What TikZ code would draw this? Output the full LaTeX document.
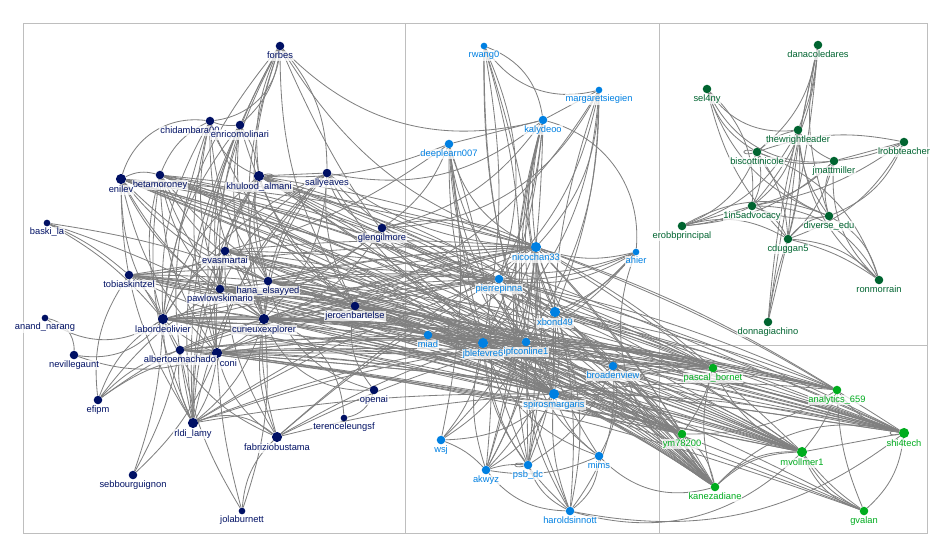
\documentclass[tikz,border=0pt]{standalone}
\usepackage{fontspec}
\setmainfont{Liberation Sans}
\definecolor{NetNavy}{RGB}{0,16,100}
\definecolor{NetBlue}{RGB}{0,128,226}
\definecolor{NetForest}{RGB}{0,100,48}
\definecolor{NetLime}{RGB}{0,172,30}
\definecolor{EdgeGray}{RGB}{128,128,128}
\definecolor{FrameGray}{RGB}{190,190,190}
\usetikzlibrary{backgrounds}

\tikzset{
    vtx/.style={circle, draw=none, inner sep=0pt, label distance=1.5pt},
    vS/.style={vtx, minimum size=5pt},
    vM/.style={vtx, minimum size=6.4pt},
    vL/.style={vtx, minimum size=7.6pt},
    lab/.style={font=\fontsize{7}{8}\selectfont, fill=white, fill opacity=0.75, text opacity=1,
        inner sep=0.7pt, text height=5.1pt, text depth=1.5pt},
    link/.style={draw=EdgeGray, line width=0.62pt},
    frame/.style={draw=FrameGray, line width=0.7pt},
}

\begin{document}
\begin{tikzpicture}[x=0.75pt, y=-0.75pt, every label/.style={lab}]
    \useasboundingbox (0,0) rectangle (950,557);

    % group 1 (navy)
    \node[vM, fill=NetNavy, label={[text=NetNavy, xshift=-15pt]below:chidambara00}] (chid) at (210,121) {};
    \node[vL, fill=NetNavy, label={[text=NetNavy, xshift=8.5pt]below:coni}] (coni) at (217,353) {};
    \foreach \id/\x/\y/\sz/\txt in {forbes/280/46/vM/forbes, beta/160/175/vM/betamoroney,
        enilev/121/179/vL/enilev, enrico/240/125/vM/enricomolinari, khul/259/176/vL/khulood\_almani,
        sally/327/173/vM/sallyeaves, baski/47/223/vS/baski\_la, glen/382/228/vM/glengilmore,
        evas/225/251/vM/evasmartai, tobi/129/275/vM/tobiaskintzel, hana/268/281/vM/hana\_elsayyed,
        pawl/220/289/vM/pawlowskimario, jero/355/306/vM/jeroenbartelse, anand/45/318/vS/anand\_narang,
        labo/163/319/vL/labordeolivier, curi/264/319/vL/curieuxexplorer, albe/180/350/vM/albertoemachado,
        nevi/74/355/vM/nevillegaunt, efipm/98/400/vM/efipm, openai/374/390/vM/openai,
        tere/344/418/vS/terenceleungsf, rldi/193/423/vL/rldi\_lamy, fabr/277/437/vL/fabriziobustama,
        sebb/133/475/vM/sebbourguignon, jola/242/511/vS/jolaburnett}
        \node[\sz, fill=NetNavy, label={[text=NetNavy]below:\txt}] (\id) at (\x,\y) {};

    % group 2 (blue)
    \foreach \id/\x/\y/\sz/\txt in {rwang/484/46/vS/rwang0, marg/599/90/vS/margaretsiegien,
        kaly/543/120/vM/kalydeoo, deep/449/144/vM/deeplearn007, nico/536/247/vL/nicochan33,
        ahier/636/252/vS/ahier, pier/499/279/vM/pierrepinna, xbond/555/312/vL/xbond49,
        miad/428/335/vM/miad, jble/483/343/vL/jblefevre6, ipfc/526/342/vM/ipfconline1,
        broad/613/366/vM/broadenview, spir/554/394/vL/spirosmargaris, wsj/441/440/vM/wsj,
        mims/599/456/vM/mims, psb/528/465/vM/psb\_dc, akwyz/486/470/vM/akwyz,
        harold/570/511/vM/haroldsinnott}
        \node[\sz, fill=NetBlue, label={[text=NetBlue]below:\txt}] (\id) at (\x,\y) {};

    % group 3 (dark green)
    \foreach \id/\x/\y/\txt in {dana/818/45/danacoledares, sel/707/89/sel4ny,
        thew/798/130/thewrightleader, lrobb/904/142/lrobbteacher, bisc/757/152/biscottinicole,
        jmatt/834/161/jmattmiller, oneinfive/752/206/1in5advocacy, diverse/829/216/diverse\_edu,
        erobb/682/226/erobbprincipal, cdug/788/239/cduggan5, ronm/879/280/ronmorrain,
        donna/768/322/donnagiachino}
        \node[vM, fill=NetForest, label={[text=NetForest]below:\txt}] (\id) at (\x,\y) {};

    % group 4 (green)
    \foreach \id/\x/\y/\sz/\txt in {pascal/713/368/vM/pascal\_bornet, analy/837/390/vM/analytics\_659,
        shi/904/433/vL/shi4tech, ym/682/434/vM/ym78200, mvoll/802/452/vL/mvollmer1,
        kane/715/487/vM/kanezadiane, gvalan/864/511/vM/gvalan}
        \node[\sz, fill=NetLime, label={[text=NetLime]below:\txt}] (\id) at (\x,\y) {};

    \begin{scope}[on background layer]
        % group boxes
        \draw[frame] (23,23) rectangle (927,533);
        \draw[frame] (405.5,23) -- (405.5,533);
        \draw[frame] (659,23) -- (659,533);
        \draw[frame] (659,345) -- (927,345);

        % inside group 1
        \foreach \s/\t/\b in {chid/enilev/-40, chid/beta/-20, chid/enrico/-12, chid/forbes/-40,
            enrico/forbes/-20, forbes/khul/-15, forbes/sally/20, khul/sally/0, enrico/khul/12,
            chid/khul/-25, enilev/beta/20, baski/tobi/8, baski/hana/6, baski/curi/5, baski/labo/10,
            tobi/labo/12, tobi/curi/-10, tobi/pawl/-12, tobi/evas/-12, anand/labo/-35, anand/nevi/40,
            nevi/labo/-30, nevi/coni/-20, efipm/labo/18, efipm/tobi/20, efipm/coni/14, efipm/albe/14,
            efipm/curi/10, efipm/pawl/10, rldi/coni/-12, rldi/labo/14, rldi/albe/16, rldi/curi/-16,
            rldi/fabr/30, rldi/pawl/8, rldi/evas/10, fabr/curi/16, fabr/coni/20, fabr/labo/22,
            fabr/hana/12, fabr/evas/16, jola/coni/6, jola/curi/-12, jola/fabr/20, jola/albe/10,
            sebb/albe/-8, sebb/coni/-12, sebb/labo/-8, openai/jero/25, openai/curi/35, openai/hana/30,
            tere/curi/-35, tere/openai/-30, evas/pawl/0, evas/labo/-12, evas/curi/12, pawl/curi/8,
            hana/curi/6, labo/curi/12, albe/labo/0, coni/curi/-10, coni/labo/10, glen/curi/20,
            glen/hana/16, glen/labo/18, sally/curi/20, sally/glen/-30, jero/curi/0, jero/labo/10}
            \draw[link] (\s) to[bend left=\b] (\t);
        \foreach \s in {enilev,beta,chid,enrico,forbes,khul,sally}
            \foreach \t in {labo,curi,coni,pawl,hana,rldi,jero}
                \draw[link] (\s) to[bend right=16] (\t);

        % group 1 to groups 2 and 4
        \foreach \s in {labo,curi,pawl,hana,evas,khul,coni,tobi,jero,albe,enilev,beta,rldi,fabr}
            \foreach \t in {ipfc,jble,spir,nico,pier}
                \draw[link] (\s) to[bend left=5] (\t);
        \foreach \s in {labo,curi,pawl,hana,evas,khul,coni,jero,tobi,enilev,albe,beta} {
            \foreach \t in {shi,mvoll,ym,pascal}
                \draw[link] (\s) to[bend left=2] (\t);
            \draw[link] (\s) to[bend left=20] (kane);
        }
        \foreach \s in {labo,curi,hana,coni}
            \foreach \t in {analy,gvalan}
                \draw[link] (\s) to[bend left=6] (\t);
        \foreach \s/\t/\b in {glen/nico/20, glen/kaly/-20, glen/deep/-16, glen/ipfc/20, glen/ahier/-30,
            sally/nico/-16, sally/kaly/-25, sally/ahier/-35, sally/ipfc/-20, forbes/kaly/-30,
            forbes/nico/-20, forbes/spir/-15, khul/deep/-12, evas/deep/-10, labo/miad/6,
            curi/miad/8, jero/miad/10, hana/miad/4}
            \draw[link] (\s) to[bend left=\b] (\t);

        % inside group 2
        \foreach \s/\t/\b in {kaly/deep/0, kaly/marg/0, kaly/rwang/-30, rwang/marg/-35,
            kaly/nico/-10, kaly/ipfc/-10, kaly/spir/-16, kaly/jble/10, kaly/xbond/-20, kaly/psb/-12,
            kaly/harold/-20, kaly/pier/10, kaly/ahier/40, kaly/akwyz/8,
            deep/ipfc/-16, deep/jble/-10, deep/spir/-20, deep/akwyz/12, deep/psb/-8, deep/nico/-25,
            deep/xbond/-25, deep/wsj/10, rwang/jble/10, rwang/ipfc/-8, rwang/akwyz/16, rwang/psb/12,
            rwang/spir/-12, rwang/pier/20, marg/nico/20, marg/ipfc/16, marg/jble/20, marg/pier/16,
            marg/xbond/10, marg/spir/-10, marg/glen/30, marg/curi/24,
            ahier/nico/16, ahier/pier/20, ahier/xbond/12, ahier/ipfc/10, ahier/jble/16, ahier/kane/-40,
            wsj/ipfc/-16, wsj/spir/-20, wsj/jble/-16, wsj/nico/-20, wsj/akwyz/12,
            akwyz/ipfc/-12, akwyz/spir/-16, akwyz/jble/16, akwyz/nico/-16, akwyz/psb/10, akwyz/xbond/-20,
            akwyz/mims/-16, psb/ipfc/0, psb/spir/8, psb/nico/-8, psb/jble/16, psb/xbond/-12,
            psb/broad/-16, harold/ipfc/16, harold/spir/12, harold/nico/-12, harold/jble/20,
            harold/xbond/-16, harold/psb/20, harold/akwyz/24, harold/mims/-24, harold/broad/-20,
            harold/mvoll/-30, harold/shi/-24, mims/ipfc/20, mims/spir/16, mims/jble/24, mims/nico/16,
            mims/broad/-20, mims/kane/-30, miad/ipfc/-12, miad/jble/-16, miad/spir/16, miad/nico/-16,
            nico/ipfc/0, nico/spir/-8, nico/jble/8, nico/xbond/-12, pier/ipfc/-12, pier/spir/-16,
            xbond/spir/10, jble/ipfc/0, ipfc/spir/0, broad/spir/12, broad/nico/16}
            \draw[link] (\s) to[bend left=\b] (\t);
        \draw[link] (psb) to[loop left, min distance=9pt] (psb);

        % group 2 to group 4
        \foreach \s in {ipfc,jble,spir,xbond,broad,nico,pier,miad}
            \foreach \t in {shi,mvoll,ym,kane,pascal,analy}
                \draw[link] (\s) to[bend left=6] (\t);

        % inside group 3
        \foreach \s/\t/\b in {bisc/thew/15, bisc/jmatt/-15, bisc/oneinfive/20, bisc/diverse/-20,
            bisc/cdug/15, thew/jmatt/-15, thew/oneinfive/20, thew/diverse/-15, thew/cdug/10,
            jmatt/oneinfive/15, jmatt/diverse/-20, jmatt/cdug/15, oneinfive/diverse/-15,
            oneinfive/cdug/20, diverse/cdug/-20, sel/bisc/-20, sel/thew/-30, sel/jmatt/-35,
            sel/cdug/-15, sel/oneinfive/25, sel/diverse/-25, dana/cdug/4, dana/cdug/-4, dana/thew/8,
            dana/bisc/20, dana/oneinfive/18, dana/diverse/-15, lrobb/jmatt/0, lrobb/jmatt/8,
            lrobb/oneinfive/12, lrobb/bisc/-15, lrobb/cdug/20, lrobb/diverse/22, erobb/oneinfive/0,
            erobb/oneinfive/-10, erobb/jmatt/-18, erobb/cdug/22, erobb/diverse/25, erobb/bisc/-22,
            erobb/thew/-22, ronm/cdug/-20, ronm/cdug/-10, ronm/diverse/-22, ronm/oneinfive/-30,
            ronm/bisc/-25, ronm/jmatt/25, ronm/thew/22, donna/cdug/0, donna/cdug/5, donna/thew/4,
            donna/dana/2}
            \draw[link] (\s) to[bend left=\b] (\t);
        \draw[link] (bisc) to[loop left, min distance=9pt] (bisc);

        % inside group 4
        \foreach \s/\t/\b in {pascal/ym/10, pascal/kane/-16, pascal/mvoll/-20, analy/mvoll/10,
            analy/gvalan/-10, analy/shi/-20, analy/ym/16, shi/mvoll/0, shi/gvalan/20,
            mvoll/gvalan/-16, mvoll/gvalan/-8, mvoll/gvalan/-24, mvoll/kane/-20, ym/kane/20,
            ym/kane/-12, kane/mvoll/24, shi/kane/-30}
            \draw[link] (\s) to[bend left=\b] (\t);
        \draw[link] (shi) to[loop left, min distance=9pt] (shi);
        \draw[link] (khul) to[loop right, min distance=9pt] (khul);
    \end{scope}
\end{tikzpicture}
\end{document}
